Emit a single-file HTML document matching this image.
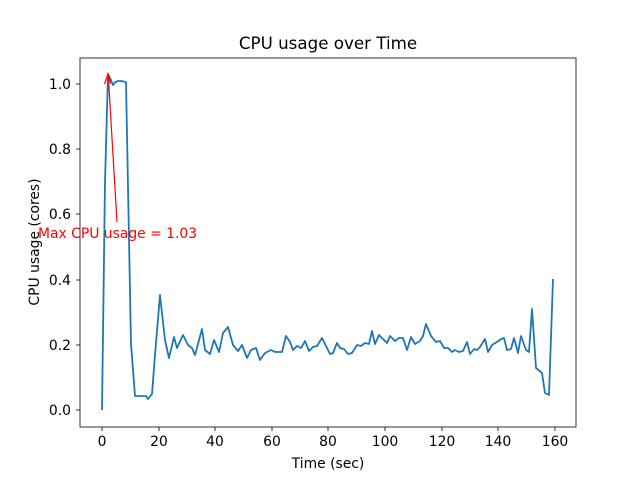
<!DOCTYPE html>
<html><head><meta charset="utf-8"><style>body{margin:0;background:#fff}svg{display:block}text{font-family:"DejaVu Sans","Liberation Sans",sans-serif}</style></head><body>
<svg width="640" height="480" viewBox="0 0 640 480" xmlns="http://www.w3.org/2000/svg">
<rect width="640" height="480" fill="#fff"/>
<text x="328" y="49" font-size="16.7" text-anchor="middle">CPU usage over Time</text>
<polyline fill="none" stroke="#1f77b4" stroke-width="1.8" stroke-linejoin="round" points="102,410 105,182 108,74 110.5,79 113,85 115.5,82 118,81 121,81 126,82 131,344 135,396 141,396 146,396 148,399 152,394 155,355 160,295 165,340 169,358 174,337 177,348 183,335 188,345 192,348 195,355 202,329 205,350 210,354 214,340 219,352 223,333 228,327 233,345 238,351 242,345 247,358 251,350 256,348 260,360 265,353 271,350 275,352 282,352 286,336 290,342 293,350 297,346 301,348 305,341 309,351 313,347 317,346 322,338 327,348 330,354 333,353 337,343 340,348 344,349 348,354 352,353 357,345 361,346 365,343 369,344 372,331 375,344 379,335 383,339 387,343 390,336 395,341 399,338 403,338 407,350 411,337 415,344 420,341 423,336 426,324 431,336 436,342 440,341 444,348 448,348 452,352 455,350 459,352 463,351 467,342 470,354 474,349 477,350 480,347 485,339 488,352 492,345 497,342 501,339 504,338 507,350 511,349 514,338 518,353 521,336 526,350 529,352 532,309 536,368 542,373 545,393 549,395 553,279"/>
<line x1="117" y1="222" x2="108.3" y2="76" stroke="red" stroke-width="1.2"/>
<path d="M104.5,84 L108,74 L110.5,83.5" fill="none" stroke="red" stroke-width="1.2"/>
<text x="38" y="238" font-size="13.9" fill="red">Max CPU usage = 1.03</text>
<rect x="80" y="58" width="496" height="369" fill="none" stroke="#000" stroke-width="0.8"/>
<g stroke="#000" stroke-width="0.8">
<line x1="102" y1="427" x2="102" y2="431"/><line x1="159" y1="427" x2="159" y2="431"/><line x1="215" y1="427" x2="215" y2="431"/><line x1="272" y1="427" x2="272" y2="431"/><line x1="328" y1="427" x2="328" y2="431"/><line x1="385" y1="427" x2="385" y2="431"/><line x1="442" y1="427" x2="442" y2="431"/><line x1="498" y1="427" x2="498" y2="431"/><line x1="555" y1="427" x2="555" y2="431"/>
<line x1="76" y1="410" x2="80" y2="410"/><line x1="76" y1="345" x2="80" y2="345"/><line x1="76" y1="280" x2="80" y2="280"/><line x1="76" y1="214" x2="80" y2="214"/><line x1="76" y1="149" x2="80" y2="149"/><line x1="76" y1="84" x2="80" y2="84"/>
</g>
<g font-size="13.9" text-anchor="middle">
<text x="102" y="446">0</text><text x="159" y="446">20</text><text x="215" y="446">40</text><text x="272" y="446">60</text><text x="328" y="446">80</text><text x="385" y="446">100</text><text x="442" y="446">120</text><text x="498" y="446">140</text><text x="555" y="446">160</text>
</g>
<g font-size="13.9" text-anchor="end">
<text x="71" y="415">0.0</text><text x="71" y="350">0.2</text><text x="71" y="285">0.4</text><text x="71" y="219">0.6</text><text x="71" y="154">0.8</text><text x="71" y="89">1.0</text>
</g>
<text x="328" y="468" font-size="13.9" text-anchor="middle">Time (sec)</text>
<text transform="translate(39,242) rotate(-90)" font-size="13.9" text-anchor="middle">CPU usage (cores)</text>
</svg>
</body></html>
